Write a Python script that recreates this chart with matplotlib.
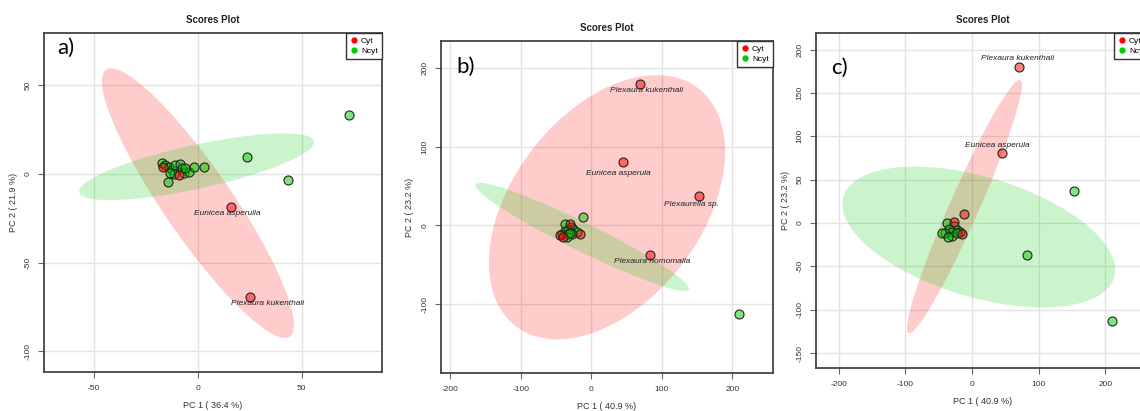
import matplotlib
matplotlib.use("Agg")
import matplotlib.pyplot as plt
from matplotlib.lines import Line2D
import numpy as np

plt.rcParams['font.family'] = ['Liberation Sans', 'DejaVu Sans']
plt.rcParams['axes.unicode_minus'] = False

W, H = 1140, 411

# ---- panel a data ----
a_cyt_x = [15.9, 25.1, -9.0, -16.5]
a_cyt_y = [-18.4, -69.2, -0.6, 4.1]
a_ncyt_x = [72.6, 23.6, 43.4, -17.0, -15.4, -13.8, -12.2, -10.6, -8.2, -7.4,
            -11.4, -6.6, -4.2, -1.8, 3.0, -14.3, -13.0, -5.8]
a_ncyt_y = [33.1, 9.8, -3.4, 6.4, 5.1, 3.8, 2.3, 5.1, 5.6, 3.2,
            0.0, 0.4, 1.3, 4.1, 3.8, -4.3, 0.7, 3.2]
a_labels = ["Eunicea asperulla", "Plexaura kukenthali"]
a_label_x = [14.3, 33.6]
a_label_y = [-22.2, -72.9]
# ellipse: centre x, centre y, half-extent x, half-extent y, correlation
a_ell_cyt = [0.2, -16.4, 46.2, 76.0, -0.904]
a_ell_ncyt = [-0.4, 4.1, 56.5, 18.8, 0.74]

# ---- panel b data ----
b_cyt_x = [69.5, 44.5, 152.8, 83.3, -30.2, -16.0, -44.4, -39.7]
b_cyt_y = [179.7, 80.3, 37.6, -36.8, 1.3, -10.2, -12.3, -14.5]
b_ncyt_x = [209.0, -12.0, -37.3, -28.8, -25.5, -32.6, -37.3, -41.1, -20.7,
            -27.8, -32.6, -34.9, -30.2]
b_ncyt_y = [-112.6, 10.5, 2.5, -1.8, -4.7, -6.0, -7.2, -10.2, -8.1,
            -10.2, -11.4, -14.5, -8.9]
b_labels = ["Plexaura kukenthali", "Eunicea asperula", "Plexaurella sp.",
            "Plexaura homomalla"]
b_label_x = [78.6, 38.3, 142.4, 86.5]
b_label_y = [171.3, 66.4, 26.1, -45.3]
b_ell_cyt = [22.3, 23.2, 167.4, 167.5, 0.42]
b_ell_ncyt = [-12.7, -14.5, 151.3, 68.5, -0.956]

# ---- panel c data ----
c_cyt_x = [69.8, 44.6, -12.3, -27.7, -14.8]
c_cyt_y = [179.6, 80.4, 10.4, 1.5, -13.0]
c_ncyt_x = [152.9, 83.1, 209.2, -37.8, -27.7, -34.3, -22.5, -17.4, -30.2,
            -40.5, -45.5, -30.2, -35.4, -22.5]
c_ncyt_y = [37.3, -36.9, -112.7, -0.4, -3.1, -6.9, -8.1, -10.0, -10.0,
            -11.9, -11.9, -14.7, -15.8, -12.0]
c_labels = ["Plexaura kukenthali", "Eunicea asperula"]
c_label_x = [68.8, 37.5]
c_label_y = [190.0, 89.6]
c_ell_cyt = [-11.4, 18.9, 86.2, 146.2, 0.96]
c_ell_ncyt = [10.0, -16.2, 204.6, 81.2, -0.468]

RED = (1.0, 0.0, 0.0)
GREEN = (0.0, 0.8, 0.0)


def ellipse(ax, p, color):
    cx, cy, hx, hy, r = p
    t = np.linspace(0, 2 * np.pi, 200)
    x = cx + hx * np.cos(t)
    y = cy + hy * (r * np.cos(t) + np.sqrt(1 - r * r) * np.sin(t))
    ax.fill(x, y, color=color, alpha=0.2, lw=0, zorder=1)


def panel(box, xlim, ylim, xticks, yticks, xlab, ylab, tag, tagpos,
          cyt, ncyt, ell_c, ell_n, labels, titley):
    l, r, t, b = box
    ax = fig.add_axes([l / W, 1 - b / H, (r - l) / W, (b - t) / H])
    ax.set_xlim(xlim)
    ax.set_ylim(ylim)
    ax.set_xticks(xticks)
    ax.set_yticks(yticks)
    ax.grid(True, color='#e3e3e3', lw=1.0, zorder=0)
    ax.set_axisbelow(True)
    for s in ax.spines.values():
        s.set_color('#444444')
        s.set_linewidth(1.3)
    ax.tick_params(axis='both', labelsize=6, color='#666666', length=4,
                   labelcolor='#333333', pad=5)
    plt.setp(ax.get_yticklabels(), rotation=90, va='center')

    ellipse(ax, ell_c, RED)
    ellipse(ax, ell_n, GREEN)

    ax.scatter(ncyt[0], ncyt[1], s=42, facecolor=GREEN + (0.5,),
               edgecolor='#222222', lw=0.8, zorder=3)
    ax.scatter(cyt[0], cyt[1], s=42, facecolor=RED + (0.5,),
               edgecolor='#222222', lw=0.8, zorder=3)
    for name, lx, ly in zip(*labels):
        ax.text(lx, ly, name, fontsize=6, style='italic', color='#222222',
                ha='center', va='center', zorder=4)

    handles = [Line2D([], [], marker='o', ls='', color=RED, ms=3.5),
               Line2D([], [], marker='o', ls='', color=GREEN, ms=3.5)]
    leg = ax.legend(handles, ['Cyt', 'Ncyt'], loc='upper right',
                    borderaxespad=0, fontsize=6, fancybox=False,
                    handlelength=1.0, handletextpad=0.3, borderpad=0.5,
                    labelspacing=0.3, framealpha=1)
    leg.get_frame().set_edgecolor('#333333')
    leg.get_frame().set_linewidth(1.0)

    cx = (l + r) / 2
    fig.text(cx / W, 1 - titley / H, 'Scores Plot', fontsize=7,
             fontweight='bold', ha='center', va='center', color='#222222')
    fig.text(cx / W, 1 - (b + 33) / H, xlab, fontsize=6.5, ha='center',
             va='center', color='#333333')
    fig.text((l - 31) / W, 1 - ((t + b) / 2) / H, ylab, fontsize=6.5,
             rotation=90, ha='center', va='center', color='#333333')
    fig.text(tagpos[0] / W, 1 - tagpos[1] / H, tag, fontsize=16,
             family=['Lato', 'DejaVu Sans'], ha='center', va='center',
             color='black')
    return ax


fig = plt.figure(figsize=(W / 100, H / 100), dpi=100)

panel((44, 382, 33, 372), (-73.8, 88.7), (-111.6, 79.5),
      [-50, 0, 50], [-100, -50, 0, 50],
      'PC 1 ( 36.4 %)', 'PC 2 ( 21.9 %)', 'a)', (66, 48),
      (a_cyt_x, a_cyt_y), (a_ncyt_x, a_ncyt_y), a_ell_cyt, a_ell_ncyt,
      (a_labels, a_label_x, a_label_y), 20)

panel((441, 773, 41, 373), (-213, 257.7), (-187, 233.9),
      [-200, -100, 0, 100, 200], [-100, 0, 100, 200],
      'PC 1 ( 40.9 %)', 'PC 2 ( 23.2 %)', 'b)', (466, 67),
      (b_cyt_x, b_cyt_y), (b_ncyt_x, b_ncyt_y), b_ell_cyt, b_ell_ncyt,
      (b_labels, b_label_x, b_label_y), 28)

panel((816, 1150, 33, 368), (-234, 266.8), (-167.3, 219.2),
      [-200, -100, 0, 100, 200], [-150, -100, -50, 0, 50, 100, 150, 200],
      'PC 1 ( 40.9 %)', 'PC 2 ( 23.2 %)', 'c)', (839, 68),
      (c_cyt_x, c_cyt_y), (c_ncyt_x, c_ncyt_y), c_ell_cyt, c_ell_ncyt,
      (c_labels, c_label_x, c_label_y), 20)

fig.savefig('out.png', dpi=100)
